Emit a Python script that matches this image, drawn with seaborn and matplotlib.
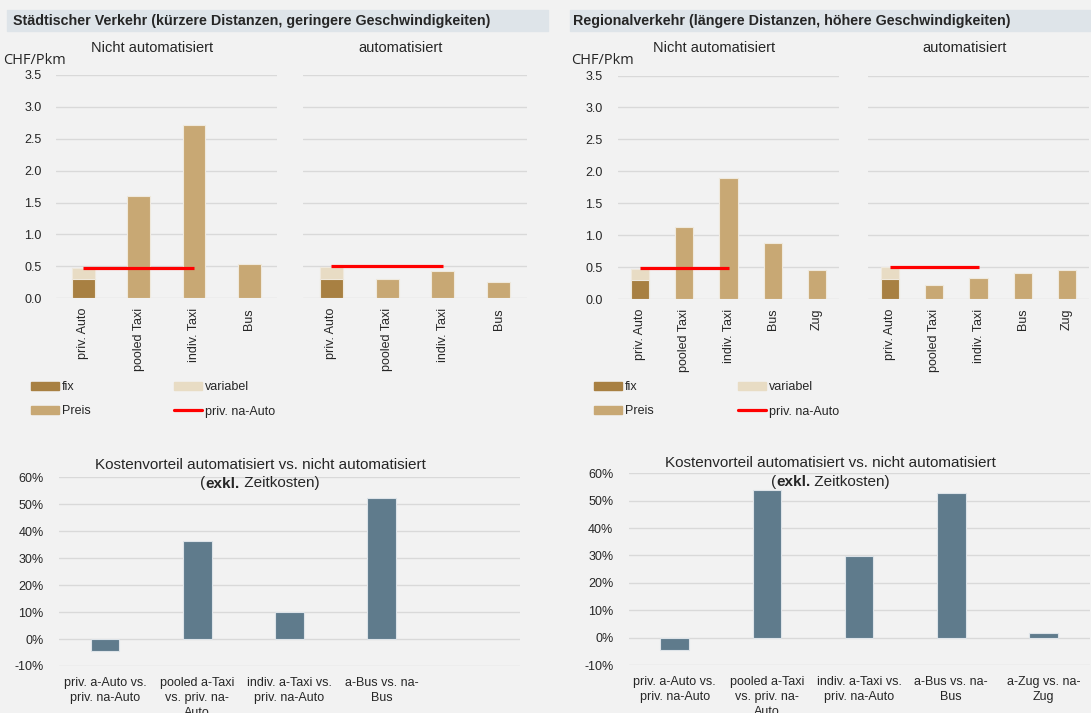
import numpy as np
import pandas as pd
import seaborn as sns
import matplotlib.pyplot as plt
from matplotlib.patches import Patch, Rectangle
from matplotlib.lines import Line2D
from matplotlib.ticker import FuncFormatter

# --- data (CHF/Pkm) ---
cats_city = ["priv. Auto", "pooled Taxi", "indiv. Taxi", "Bus"]
cats_reg = ["priv. Auto", "pooled Taxi", "indiv. Taxi", "Bus", "Zug"]

# Städtischer Verkehr
city_na_fix, city_na_var = 0.30, 0.17
city_na_price = [1.60, 2.72, 0.53]          # pooled Taxi, indiv. Taxi, Bus
city_na_ref = 0.48
city_a_fix, city_a_var = 0.30, 0.19
city_a_price = [0.30, 0.425, 0.25]
city_a_ref = 0.50

# Regionalverkehr
reg_na_fix, reg_na_var = 0.30, 0.17
reg_na_price = [1.12, 1.90, 0.88, 0.46]     # pooled Taxi, indiv. Taxi, Bus, Zug
reg_na_ref = 0.48
reg_a_fix, reg_a_var = 0.32, 0.18
reg_a_price = [0.22, 0.33, 0.41, 0.46]
reg_a_ref = 0.50

# Kostenvorteil (%)
adv_city_labels = ["priv. a-Auto vs.\npriv. na-Auto", "pooled a-Taxi\nvs. priv. na-\nAuto",
                   "indiv. a-Taxi vs.\npriv. na-Auto", "a-Bus vs. na-\nBus"]
adv_city = [-4.3, 36.5, 10.2, 52.4]
adv_reg_labels = adv_city_labels + ["a-Zug vs. na-\nZug"]
adv_reg = [-4.4, 53.9, 29.9, 52.7, 1.6]

C_FIX = "#a88042"
C_VAR = "#e8dcc4"
C_PREIS = "#c8a874"
C_ADV = "#5f7b8c"
C_BG = "#f2f2f2"
C_GRID = "#d9d9d9"

W, H = 1091, 713

sns.set_style("white")
plt.rcParams["font.family"] = ["Liberation Sans", "DejaVu Sans"]

fig = plt.figure(figsize=(W / 100, H / 100), dpi=100, facecolor=C_BG)


def box(x0, y0, x1, y1):
    # pixel box -> figure fraction rect
    return [x0 / W, 1 - y1 / H, (x1 - x0) / W, (y1 - y0) / H]


def style_ax(ax):
    ax.set_facecolor(C_BG)
    sns.despine(ax=ax, left=True, bottom=True)
    ax.yaxis.grid(True, color=C_GRID, lw=1)
    ax.set_axisbelow(True)
    ax.tick_params(length=0)
    ax.set_xlabel("")
    ax.set_ylabel("")


def cost_panel(ax, cats, fix, var, price, ref, title, ypad):
    kw = dict(order=cats, width=0.41, saturation=1, ax=ax, edgecolor="#efe9dd", linewidth=0.8)
    sns.barplot(x=[cats[0]], y=[fix + var], color=C_VAR, **kw)
    sns.barplot(x=[cats[0]], y=[fix], color=C_FIX, **kw)
    sns.barplot(x=cats[1:], y=price, color=C_PREIS, **kw)
    ax.hlines(ref, cats.index("priv. Auto"), cats.index("indiv. Taxi"), color="red", lw=2.3, zorder=5)
    style_ax(ax)
    ax.set_xlim(-0.5, len(cats) - 0.5)
    ax.set_ylim(0, 3.5)
    ax.set_yticks(np.arange(0, 3.51, 0.5))
    ax.yaxis.set_major_formatter(FuncFormatter(lambda v, p: f"{v:.1f}"))
    ax.tick_params(axis="y", labelsize=9, pad=ypad)
    ax.tick_params(axis="x", labelsize=9, labelrotation=90, pad=7)
    ax.text(0.435, 1.0 + 27 / 223, title, transform=ax.transAxes, ha="center", va="center", fontsize=10.5)


def adv_panel(ax, labels, values):
    sns.barplot(x=labels, y=values, color=C_ADV, width=0.31, saturation=1, ax=ax,
                edgecolor="#dde3e8", linewidth=0.8)
    style_ax(ax)
    ax.set_xlim(-0.5, 4.5)
    ax.set_ylim(-10, 60)
    ax.set_yticks(range(-10, 61, 10))
    ax.yaxis.set_major_formatter(FuncFormatter(lambda v, p: f"{v:.0f}%"))
    ax.tick_params(axis="y", labelsize=9, pad=11)
    ax.tick_params(axis="x", labelsize=9, pad=8)
    for lbl in ax.get_xticklabels():
        lbl.set_linespacing(1.3)


def mixed_title(cx, cy, parts, size=11):
    # line of text pieces with individual weights, centred at (cx, cy) pixels
    renderer = fig.canvas.get_renderer()
    texts = [fig.text(0, 1 - cy / H, s, fontsize=size, weight=w, va="center", ha="left") for s, w in parts]
    widths = [t.get_window_extent(renderer).width for t in texts]
    x = cx - sum(widths) / 2
    for t, w in zip(texts, widths):
        t.set_x(x / W)
        x += w


# header bars
for (x0, x1, tx, txt) in [(7, 548, 13, "Städtischer Verkehr (kürzere Distanzen, geringere Geschwindigkeiten)"),
                          (570, 1091, 573, "Regionalverkehr (längere Distanzen, höhere Geschwindigkeiten)")]:
    fig.patches.append(Rectangle((x0 / W, 1 - 31 / H), (x1 - x0) / W, 21 / H,
                                 transform=fig.transFigure, color="#dee4e9", zorder=0))
    fig.text(tx / W, 1 - 20.5 / H, txt, fontsize=10.3, weight="bold", va="center", ha="left")

# top panels
ax1 = fig.add_axes(box(55.6, 75, 277, 298.3))
cost_panel(ax1, cats_city, city_na_fix, city_na_var, city_na_price, city_na_ref, "Nicht automatisiert", 10)
ax2 = fig.add_axes(box(303.4, 75, 526.6, 298.3))
cost_panel(ax2, cats_city, city_a_fix, city_a_var, city_a_price, city_a_ref, "automatisiert", 10)
ax2.tick_params(axis="y", labelleft=False)

ax3 = fig.add_axes(box(618, 75.5, 839, 299))
cost_panel(ax3, cats_reg, reg_na_fix, reg_na_var, reg_na_price, reg_na_ref, "Nicht automatisiert", 11)
ax4 = fig.add_axes(box(868, 75.5, 1089, 299))
cost_panel(ax4, cats_reg, reg_a_fix, reg_a_var, reg_a_price, reg_a_ref, "automatisiert", 11)
ax4.tick_params(axis="y", labelleft=False)

for x in (3, 571):
    fig.text(x / W, 1 - 60 / H, "CHF/Pkm", fontsize=10.5, family="Open Sans", va="center", ha="left")

# legends
handles = [Patch(color=C_FIX), Patch(color=C_PREIS), Patch(color=C_VAR),
           Line2D([0], [0], color="red", lw=2.3)]
names = ["fix", "Preis", "variabel", "priv. na-Auto"]
for x in (30.6, 594):
    fig.legend(handles, names, loc="upper left", bbox_to_anchor=(x / W, 1 - 381 / H), ncol=2,
               frameon=False, fontsize=9, handlelength=2.24, handleheight=0.6, handletextpad=0.25,
               columnspacing=6.7, labelspacing=1.0, borderpad=0, borderaxespad=0)

# bottom panels
ax5 = fig.add_axes(box(59, 477.3, 520, 666))
adv_panel(ax5, adv_city_labels, adv_city)
ax6 = fig.add_axes(box(628.6, 473.3, 1089.6, 665))
adv_panel(ax6, adv_reg_labels, adv_reg)

for cx, y1 in [(260, 465), (830.5, 463.3)]:
    fig.text(cx / W, 1 - y1 / H, "Kostenvorteil automatisiert vs. nicht automatisiert",
             fontsize=11, ha="center", va="center")
    mixed_title(cx, y1 + 18.5, [("(", "normal"), ("exkl.", "bold"), (" Zeitkosten)", "normal")])

fig.savefig("out.png", dpi=100, facecolor=C_BG)
